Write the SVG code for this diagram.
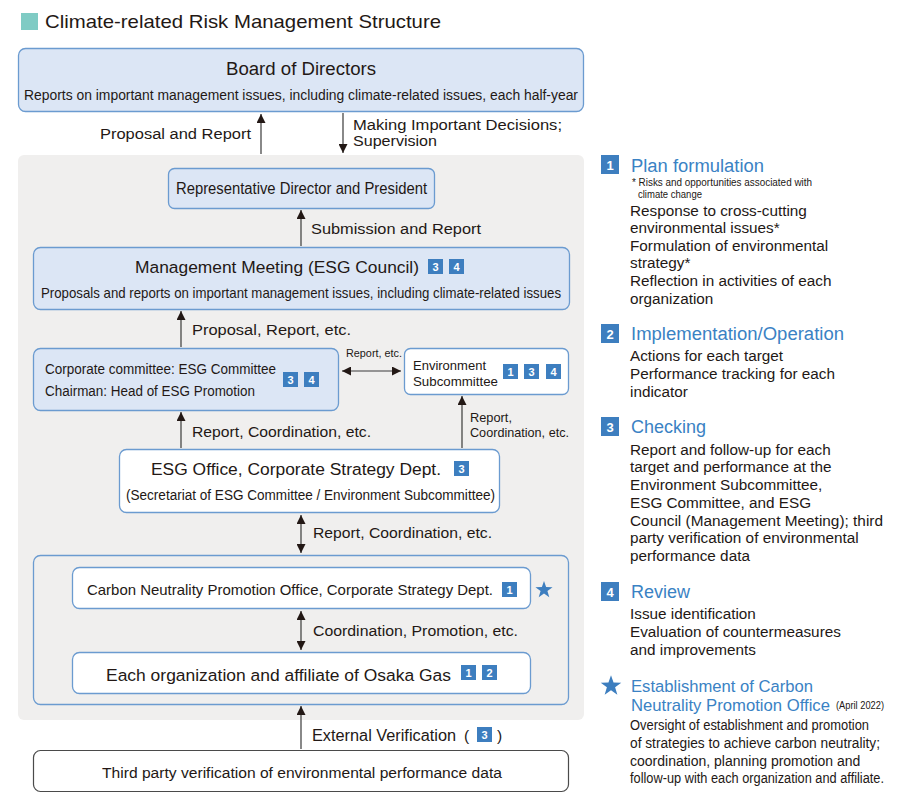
<svg xmlns="http://www.w3.org/2000/svg" xmlns:xlink="http://www.w3.org/1999/xlink" width="910" height="804" viewBox="0 0 910 804">
<defs>
<style>
text{font-family:"Liberation Sans",Arial,sans-serif;fill:#231815}
.bx{fill:#dce6f5;stroke:#6b9bd0;stroke-width:1.3}
.wb{fill:#ffffff;stroke:#6b9bd0;stroke-width:1.3}
.ln{stroke:#3a3a3a;stroke-width:1.2;fill:none}
.bd{fill:#3d7ebf}
.bt{fill:#ffffff;font-size:11px;font-weight:bold;text-anchor:middle}
.bdl{fill:#3d7ebf}
.blt{fill:#ffffff;font-size:13px;font-weight:bold;text-anchor:middle}
.hd{fill:#3a82c4;font-size:18px}
.rp{font-size:15.3px}
.st{fill:#3d7ebf}
</style>
<marker id="ah" viewBox="0 0 10 10" refX="10" refY="5" markerWidth="9" markerHeight="9" markerUnits="userSpaceOnUse" orient="auto-start-reverse">
<path d="M0,0 L10,5 L0,10 Z" fill="#231815"/>
</marker>
<path id="star" d="M0,-9 L2.12,-2.91 L8.56,-2.78 L3.42,1.11 L5.29,7.28 L0,3.6 L-5.29,7.28 L-3.42,1.11 L-8.56,-2.78 L-2.12,-2.91 Z"/>
</defs>
<rect width="910" height="804" fill="#ffffff"/>

<g id="title">
<rect x="21" y="13" width="17" height="17" fill="#7fcbc4"/>
<text x="45" y="28" font-size="19" textLength="396" lengthAdjust="spacingAndGlyphs">Climate-related Risk Management Structure</text>
</g>

<g id="gray-area">
<rect x="18" y="155" width="566" height="565" rx="6" fill="#f0efee"/>
</g>

<g id="board">
<rect class="bx" x="18.5" y="48.5" width="565" height="63" rx="7"/>
<text x="301" y="75" font-size="18" text-anchor="middle" textLength="150" lengthAdjust="spacingAndGlyphs">Board of Directors</text>
<text x="301" y="100" font-size="15.5" text-anchor="middle" textLength="554" lengthAdjust="spacingAndGlyphs">Reports on important management issues, including climate-related issues, each half-year</text>
</g>

<g id="president">
<rect class="bx" x="168.5" y="168.5" width="266" height="40" rx="6"/>
<text x="301.5" y="194" font-size="16" text-anchor="middle" textLength="251" lengthAdjust="spacingAndGlyphs">Representative Director and President</text>
</g>

<g id="management-meeting">
<rect class="bx" x="33.5" y="247.5" width="536" height="62" rx="7"/>
<text x="135" y="273" font-size="17.4" textLength="284" lengthAdjust="spacingAndGlyphs">Management Meeting (ESG Council)</text>
<rect class="bd" x="428" y="259" width="15" height="15"/><text class="bt" x="435.5" y="270.5">3</text>
<rect class="bd" x="449" y="259" width="15" height="15"/><text class="bt" x="456.5" y="270.5">4</text>
<text x="301" y="298" font-size="15" text-anchor="middle" textLength="520" lengthAdjust="spacingAndGlyphs">Proposals and reports on important management issues, including climate-related issues</text>
</g>

<g id="esg-committee">
<rect class="bx" x="33.5" y="348.5" width="305" height="62" rx="7"/>
<text x="45" y="374" font-size="14" textLength="231" lengthAdjust="spacingAndGlyphs">Corporate committee: ESG Committee</text>
<text x="45" y="396" font-size="14" textLength="210" lengthAdjust="spacingAndGlyphs">Chairman: Head of ESG Promotion</text>
<rect class="bd" x="283" y="372" width="15" height="15"/><text class="bt" x="290.5" y="383.5">3</text>
<rect class="bd" x="304" y="372" width="15" height="15"/><text class="bt" x="311.5" y="383.5">4</text>
</g>

<g id="environment-subcommittee">
<rect class="wb" x="404.5" y="348.5" width="164" height="46" rx="6"/>
<text x="413" y="370" font-size="13.3" textLength="73" lengthAdjust="spacingAndGlyphs">Environment</text>
<text x="413" y="386" font-size="13.3" textLength="85" lengthAdjust="spacingAndGlyphs">Subcommittee</text>
<rect class="bd" x="503" y="364" width="15" height="15"/><text class="bt" x="510.5" y="375.5">1</text>
<rect class="bd" x="524" y="364" width="15" height="15"/><text class="bt" x="531.5" y="375.5">3</text>
<rect class="bd" x="546" y="364" width="15" height="15"/><text class="bt" x="553.5" y="375.5">4</text>
</g>

<g id="esg-office">
<rect class="wb" x="119.5" y="449.5" width="380" height="63" rx="7"/>
<text x="151" y="475" font-size="17.4" textLength="290" lengthAdjust="spacingAndGlyphs">ESG Office, Corporate Strategy Dept.</text>
<rect class="bd" x="454" y="461" width="15" height="15"/><text class="bt" x="461.5" y="472.5">3</text>
<text x="126" y="500" font-size="14" textLength="369" lengthAdjust="spacingAndGlyphs">(Secretariat of ESG Committee / Environment Subcommittee)</text>
</g>

<g id="execution-group">
<rect x="33.5" y="555.5" width="535" height="149" rx="7" fill="none" stroke="#6b9bd0" stroke-width="1.3"/>
</g>

<g id="carbon-neutrality-office">
<rect class="wb" x="72.5" y="567.5" width="458" height="41" rx="7"/>
<text x="87" y="595" font-size="15" textLength="406" lengthAdjust="spacingAndGlyphs">Carbon Neutrality Promotion Office, Corporate Strategy Dept.</text>
<rect class="bd" x="502" y="582" width="15" height="15"/><text class="bt" x="509.5" y="593.5">1</text>
<use xlink:href="#star" class="st" x="544" y="590"/>
</g>

<g id="each-organization">
<rect class="wb" x="72.5" y="652.5" width="458" height="41" rx="7"/>
<text x="106" y="681" font-size="17.4" textLength="345" lengthAdjust="spacingAndGlyphs">Each organization and affiliate of Osaka Gas</text>
<rect class="bd" x="461" y="665" width="15" height="15"/><text class="bt" x="468.5" y="676.5">1</text>
<rect class="bd" x="482" y="665" width="15" height="15"/><text class="bt" x="489.5" y="676.5">2</text>
</g>

<g id="third-party">
<rect x="33.5" y="750.5" width="535" height="41" rx="7" fill="#ffffff" stroke="#4a4a4a" stroke-width="1.2"/>
<text x="302" y="778" font-size="15.5" text-anchor="middle" textLength="400" lengthAdjust="spacingAndGlyphs">Third party verification of environmental performance data</text>
</g>

<g id="connectors">
<line class="ln" x1="261" y1="154" x2="261" y2="114" marker-end="url(#ah)"/>
<line class="ln" x1="343" y1="113" x2="343" y2="153" marker-end="url(#ah)"/>
<line class="ln" x1="301" y1="246" x2="301" y2="210" marker-end="url(#ah)"/>
<line class="ln" x1="181" y1="347" x2="181" y2="311" marker-end="url(#ah)"/>
<line class="ln" x1="342" y1="371" x2="401" y2="371" marker-start="url(#ah)" marker-end="url(#ah)"/>
<line class="ln" x1="181" y1="448" x2="181" y2="412" marker-end="url(#ah)"/>
<line class="ln" x1="462" y1="448" x2="462" y2="396" marker-end="url(#ah)"/>
<line class="ln" x1="301" y1="515" x2="301" y2="553" marker-start="url(#ah)" marker-end="url(#ah)"/>
<line class="ln" x1="301" y1="611" x2="301" y2="650" marker-start="url(#ah)" marker-end="url(#ah)"/>
<line class="ln" x1="301" y1="749" x2="301" y2="706" marker-end="url(#ah)"/>
</g>

<g id="connector-labels">
<text x="251" y="139" font-size="15.5" text-anchor="end" textLength="151" lengthAdjust="spacingAndGlyphs">Proposal and Report</text>
<text x="353" y="130" font-size="15.5" textLength="209" lengthAdjust="spacingAndGlyphs">Making Important Decisions;</text>
<text x="353" y="146" font-size="15.5" textLength="84" lengthAdjust="spacingAndGlyphs">Supervision</text>
<text x="311" y="234" font-size="15.5" textLength="170" lengthAdjust="spacingAndGlyphs">Submission and Report</text>
<text x="192" y="335" font-size="15.5" textLength="159" lengthAdjust="spacingAndGlyphs">Proposal, Report, etc.</text>
<text x="346" y="357" font-size="11" textLength="56" lengthAdjust="spacingAndGlyphs">Report, etc.</text>
<text x="192" y="437" font-size="15.5" textLength="179" lengthAdjust="spacingAndGlyphs">Report, Coordination, etc.</text>
<text x="470" y="422" font-size="13.5" textLength="42" lengthAdjust="spacingAndGlyphs">Report,</text>
<text x="470" y="437" font-size="13.5" textLength="99" lengthAdjust="spacingAndGlyphs">Coordination, etc.</text>
<text x="313" y="538" font-size="15.5" textLength="179" lengthAdjust="spacingAndGlyphs">Report, Coordination, etc.</text>
<text x="313" y="636" font-size="15.5" textLength="205" lengthAdjust="spacingAndGlyphs">Coordination, Promotion, etc.</text>
<text x="312" y="741" font-size="16" textLength="144" lengthAdjust="spacingAndGlyphs">External Verification</text>
<text x="464" y="741" font-size="15.5">(</text>
<rect class="bd" x="477" y="727" width="15" height="15"/><text class="bt" x="484.5" y="738.5">3</text>
<text x="497" y="741" font-size="15.5">)</text>
</g>

<g id="legend-plan">
<rect class="bdl" x="601" y="155" width="18" height="19"/><text class="blt" x="610" y="169.5">1</text>
<text class="hd" x="631" y="172" textLength="133" lengthAdjust="spacingAndGlyphs">Plan formulation</text>
<text x="632" y="186" font-size="10" textLength="180" lengthAdjust="spacingAndGlyphs">* Risks and opportunities associated with</text>
<text x="638" y="198" font-size="10" textLength="64" lengthAdjust="spacingAndGlyphs">climate change</text>
<text class="rp" x="630" y="216">Response to cross-cutting</text>
<text class="rp" x="630" y="233">environmental issues*</text>
<text class="rp" x="630" y="251">Formulation of environmental</text>
<text class="rp" x="630" y="268">strategy*</text>
<text class="rp" x="630" y="286">Reflection in activities of each</text>
<text class="rp" x="630" y="304">organization</text>
</g>

<g id="legend-implementation">
<rect class="bdl" x="601" y="324" width="18" height="19"/><text class="blt" x="610" y="338.5">2</text>
<text class="hd" x="631" y="340" textLength="213" lengthAdjust="spacingAndGlyphs">Implementation/Operation</text>
<text class="rp" x="630" y="361">Actions for each target</text>
<text class="rp" x="630" y="379">Performance tracking for each</text>
<text class="rp" x="630" y="397">indicator</text>
</g>

<g id="legend-checking">
<rect class="bdl" x="601" y="417" width="18" height="19"/><text class="blt" x="610" y="431.5">3</text>
<text class="hd" x="631" y="433">Checking</text>
<text class="rp" x="630" y="455">Report and follow-up for each</text>
<text class="rp" x="630" y="472">target and performance at the</text>
<text class="rp" x="630" y="490">Environment Subcommittee,</text>
<text class="rp" x="630" y="508">ESG Committee, and ESG</text>
<text class="rp" x="630" y="526" textLength="253" lengthAdjust="spacingAndGlyphs">Council (Management Meeting); third</text>
<text class="rp" x="630" y="543">party verification of environmental</text>
<text class="rp" x="630" y="561">performance data</text>
</g>

<g id="legend-review">
<rect class="bdl" x="601" y="582" width="18" height="19"/><text class="blt" x="610" y="596.5">4</text>
<text class="hd" x="631" y="598">Review</text>
<text class="rp" x="630" y="619">Issue identification</text>
<text class="rp" x="630" y="637">Evaluation of countermeasures</text>
<text class="rp" x="630" y="655">and improvements</text>
</g>

<g id="legend-establishment">
<use xlink:href="#star" class="st" transform="translate(611,686) scale(1.2)"/>
<text class="hd" x="631" y="692" style="font-size:16.8px" textLength="182" lengthAdjust="spacingAndGlyphs">Establishment of Carbon</text>
<text class="hd" x="631" y="711" style="font-size:16.6px" textLength="199" lengthAdjust="spacingAndGlyphs">Neutrality Promotion Office</text>
<text x="836" y="709" font-size="10" textLength="48" lengthAdjust="spacingAndGlyphs">(April 2022)</text>
<text x="630" y="730" font-size="14" textLength="239" lengthAdjust="spacingAndGlyphs">Oversight of establishment and promotion</text>
<text x="630" y="748" font-size="14" textLength="250" lengthAdjust="spacingAndGlyphs">of strategies to achieve carbon neutrality;</text>
<text x="630" y="766" font-size="14">coordination, planning promotion and</text>
<text x="630" y="783" font-size="14" textLength="254" lengthAdjust="spacingAndGlyphs">follow-up with each organization and affiliate.</text>
</g>
</svg>
